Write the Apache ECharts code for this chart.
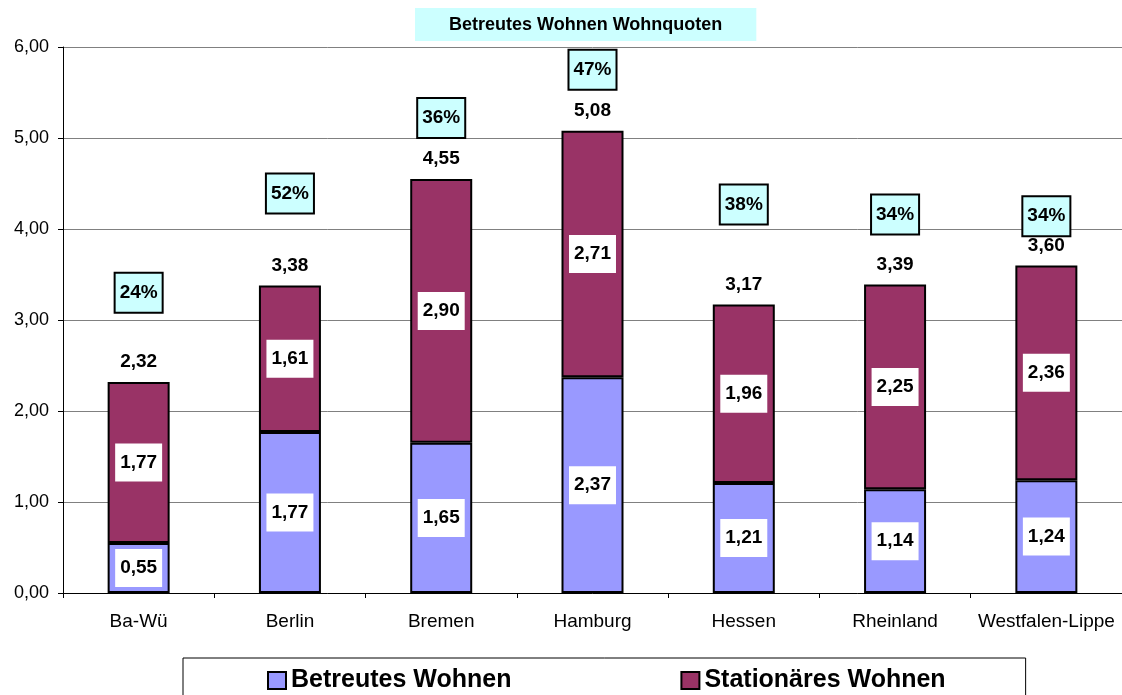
<!DOCTYPE html>
<html>
<head>
<meta charset="utf-8">
<script src="https://cdn.jsdelivr.net/npm/echarts@6/dist/echarts.min.js"></script>
<style>html,body{margin:0;padding:0;background:#fff}#c{width:1122px;height:695px}</style>
</head>
<body>
<div id="c"></div>
<script>
var categories = ['Ba-Wü', 'Berlin', 'Bremen', 'Hamburg', 'Hessen', 'Rheinland', 'Westfalen-Lippe'];
var betreutes = [0.55, 1.77, 1.65, 2.37, 1.21, 1.14, 1.24];
var stationaer = [1.77, 1.61, 2.90, 2.71, 1.96, 2.25, 2.36];
var totals = [2.32, 3.38, 4.55, 5.08, 3.17, 3.39, 3.60];
var quoten = ['24%', '52%', '36%', '47%', '38%', '34%', '34%'];
var quotenAnchor = [3.30, 4.39, 5.22, 5.75, 4.27, 4.16, 4.14];

function fmt(v) { return v.toFixed(2).replace('.', ','); }
var FONT = 'Liberation Sans, Arial, sans-serif';

var inLabel = {
  show: true, position: 'inside', color: '#000', fontFamily: FONT, fontWeight: 'bold', fontSize: 19,
  backgroundColor: '#fff', padding: [10, 5, 9, 5],
  formatter: function (p) { return fmt(p.value); }
};

var chart = echarts.init(document.getElementById('c'));
chart.setOption({
  animation: false,
  backgroundColor: '#fff',
  title: {
    text: 'Betreutes Wohnen Wohnquoten', left: 415, top: 8,
    backgroundColor: '#CCFFFF', padding: [8, 34, 7, 34],
    textStyle: { fontFamily: FONT, fontWeight: 'bold', fontSize: 18, color: '#000' }
  },
  legend: {
    data: ['Betreutes Wohnen', 'Stationäres Wohnen'],
    left: 183, top: 658, orient: 'horizontal',
    padding: [10, 80, 20, 84], itemGap: 169, itemWidth: 18, itemHeight: 17,
    borderColor: '#000', borderWidth: 1, icon: 'rect',
    textStyle: { fontFamily: FONT, fontWeight: 'bold', fontSize: 25, color: '#000' }
  },
  grid: { left: 63, right: 0, top: 47, bottom: 102, containLabel: false },
  xAxis: {
    type: 'category', data: categories,
    axisLine: { lineStyle: { color: '#000', width: 1 } },
    axisTick: { show: true, interval: 0, length: 5, lineStyle: { color: '#000' } },
    axisLabel: { interval: 0, fontFamily: FONT, fontSize: 19, color: '#000', margin: 19 }
  },
  yAxis: {
    type: 'value', min: 0, max: 6, interval: 1,
    axisLine: { show: true, lineStyle: { color: '#000', width: 1 } },
    axisTick: { show: true, length: 5, lineStyle: { color: '#000' } },
    axisLabel: { fontFamily: FONT, fontSize: 18, color: '#000', margin: 14, formatter: function (v) { return fmt(v); } },
    splitLine: { show: true, lineStyle: { color: '#808080', width: 1 } }
  },
  series: [
    {
      name: 'Betreutes Wohnen', type: 'bar', stack: 's', data: betreutes, barWidth: 62,
      itemStyle: { color: '#9999FF', borderColor: '#000', borderWidth: 2 },
      label: inLabel
    },
    {
      name: 'Stationäres Wohnen', type: 'bar', stack: 's', data: stationaer, barWidth: 62,
      itemStyle: { color: '#993366', borderColor: '#000', borderWidth: 2 },
      label: inLabel
    },
    {
      type: 'scatter', symbolSize: 1, itemStyle: { color: 'rgba(255,255,255,0)', opacity: 1 }, silent: true,
      emphasis: { disabled: true },
      data: totals.map(function (v, i) { return [i, v]; }),
      label: {
        show: true, position: 'top', distance: 10, color: '#000', fontFamily: FONT, fontWeight: 'bold', fontSize: 19,
        formatter: function (p) { return fmt(p.value[1]); }
      }
    },
    {
      type: 'scatter', symbolSize: 1, itemStyle: { color: 'rgba(255,255,255,0)', opacity: 1 }, silent: true,
      emphasis: { disabled: true },
      data: quotenAnchor.map(function (v, i) { return [i, v]; }),
      label: {
        show: true, position: 'inside', color: '#000', fontFamily: FONT, fontWeight: 'bold', fontSize: 19,
        backgroundColor: '#CCFFFF', borderColor: '#000', borderWidth: 2, padding: [10, 4, 9, 4],
        formatter: function (p) { return quoten[p.dataIndex]; }
      }
    }
  ]
});
</script>
</body>
</html>
